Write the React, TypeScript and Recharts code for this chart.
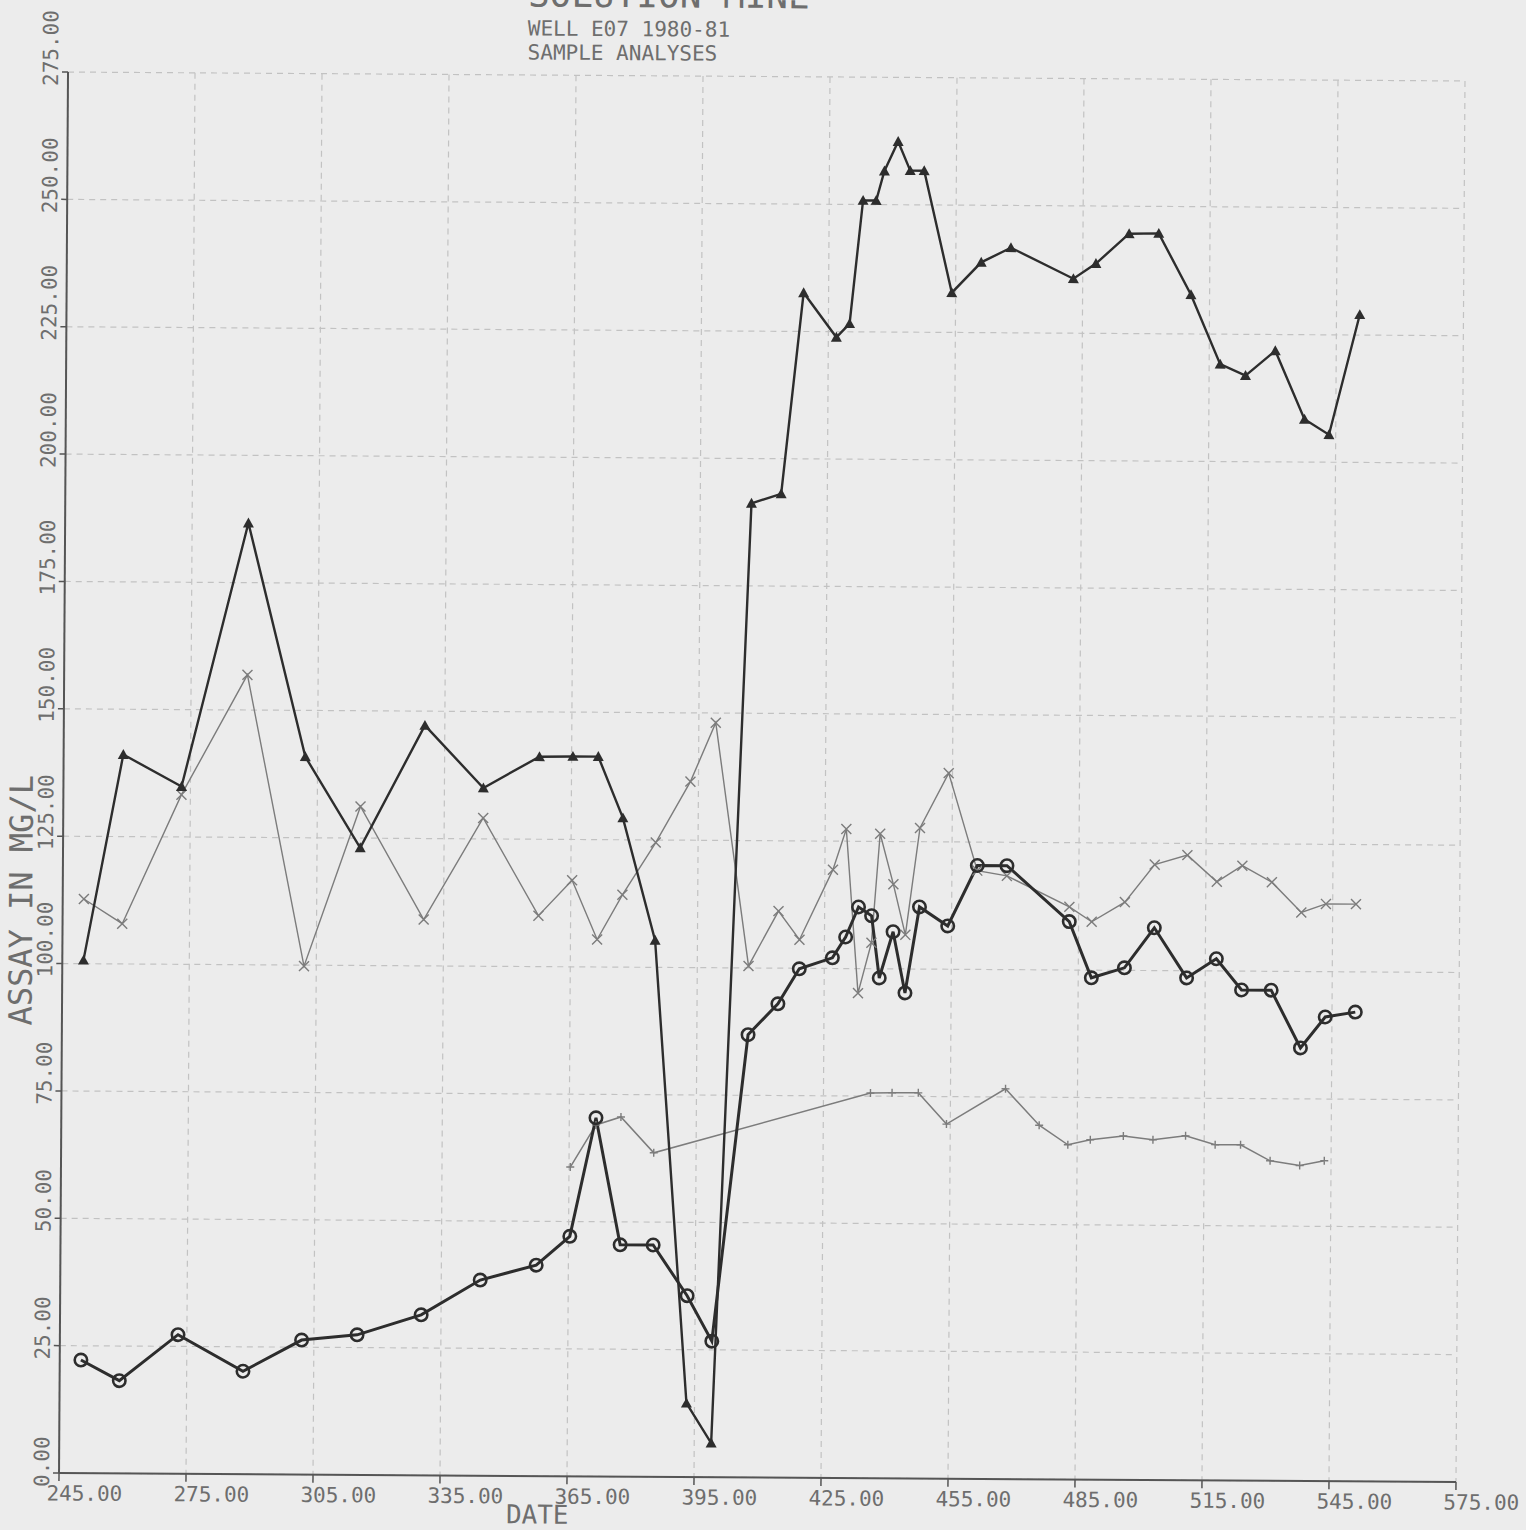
import React from "react";
import { LineChart, Line, XAxis, YAxis, CartesianGrid } from "recharts";

// sample dates (day number) shared by the three full series
const sampleDays = [
  250, 259.1, 272.9, 288.3, 302.1, 315.2, 330.3, 344.2, 357.4, 365.3, 371.3, 377.2, 385, 393.1,
  399, 407.1, 414.1, 419.1, 426.9, 430, 433, 436.1, 438, 441.2, 444.1, 447.4, 454.1, 461, 468,
  482.8, 488.1, 495.9, 502.9, 510.6, 517.6, 523.6, 530.6, 537.6, 543.4, 550.5,
];

const triangleValues = [
  100.7, 141.1, 134.9, 186.7, 140.9, 123.1, 147.2, 135, 141.2, 141.3, 141.3, 129.3, 105.3, 14.5,
  6.7, 191.2, 193.1, 232.6, 223.9, 226.6, 250.8, 250.8, 256.6, 262.4, 256.7, 256.7, 232.8, 238.8,
  241.7, 235.7, 238.7, 244.6, 244.7, 232.7, 219.1, 216.9, 221.8, 208.4, 205.4, 229,
];

const crossValues = [
  112.7, 107.9, 133.3, 156.9, 99.8, 131.2, 109.1, 129.1, 110, 117, 105.4, 114.2, 124.5, 136.5,
  148.1, 100.4, 111.2, 105.6, 119.4, 127.4, 95.2, 105.1, 126.5, 116.6, 106.7, 127.7, 138.5, 119.4,
  118.4, 112.4, 109.5, 113.4, 120.8, 122.7, 117.5, 120.7, 117.5, 111.6, 113.3, 113.3,
];

const circleValues = [
  22.2, 18.2, 27.3, 20.2, 26.4, 27.5, 31.5, 38.4, 41.4, 47.1, 70.4, 45.5, 45.5, 35.6, 26.7, 86.9,
  93, 99.9, 102.1, 106.2, 112.1, 110.4, 98.2, 107.3, 95.3, 112.2, 108.5, 120.4, 120.4, 109.5, 98.5,
  100.5, 108.4, 98.6, 102.4, 96.3, 96.3, 85, 91.1, 92.1,
];

// fourth series only starts at day 365
const plusDays = [
  365.3, 371.3, 377.2, 385, 436.1, 441.2, 447.4, 454.1, 468, 476, 482.8, 488.1, 495.9, 502.9,
  510.6, 517.6, 523.6, 530.6, 537.6, 543.4,
];
const plusValues = [
  60.7, 69, 70.6, 63.6, 75.6, 75.7, 75.7, 69.6, 76.6, 69.5, 65.7, 66.7, 67.5, 66.8, 67.6, 65.9,
  65.9, 62.8, 61.9, 62.9,
];

const xTicks = [245, 275, 305, 335, 365, 395, 425, 455, 485, 515, 545, 575];
const yTicks = [0, 25, 50, 75, 100, 125, 150, 175, 200, 225, 250, 275];

const toPoints = (xs: number[], ys: number[]) => xs.map((x, i) => ({ x, y: ys[i] }));

const FONT = "'DejaVu Sans Mono', monospace";
const INK = "#2d2d2d";
const THIN = "#7c7c7c";
const TEXT = "#6e6e6e";
// the scanned plot sits slightly turned clockwise
const TILT = "rotate(0.368deg)";

function TriangleDot({ cx, cy }: any) {
  if (cx == null || cy == null) return null;
  const s = 5.5;
  return (
    <path
      d={`M${cx},${cy - s} L${cx + s},${cy + s * 0.8} L${cx - s},${cy + s * 0.8} Z`}
      fill={INK}
    />
  );
}

function CircleDot({ cx, cy }: any) {
  if (cx == null || cy == null) return null;
  return <circle cx={cx} cy={cy} r={6.2} fill="none" stroke={INK} strokeWidth={2.6} />;
}

function CrossDot({ cx, cy }: any) {
  if (cx == null || cy == null) return null;
  const s = 5;
  return (
    <path
      d={`M${cx - s},${cy - s} L${cx + s},${cy + s} M${cx - s},${cy + s} L${cx + s},${cy - s}`}
      stroke={THIN}
      strokeWidth={1.4}
    />
  );
}

function PlusDot({ cx, cy }: any) {
  if (cx == null || cy == null) return null;
  const s = 4;
  return (
    <path
      d={`M${cx - s},${cy} L${cx + s},${cy} M${cx},${cy - s} L${cx},${cy + s}`}
      stroke={THIN}
      strokeWidth={1.4}
    />
  );
}

function XTick({ x, y, payload }: any) {
  return (
    <text
      x={x + 25.5}
      y={y + 17.5}
      textAnchor="middle"
      fill={TEXT}
      fontFamily={FONT}
      fontSize={21}
    >
      {Number(payload.value).toFixed(2)}
    </text>
  );
}

function YTick({ y, payload }: any) {
  return (
    <text
      transform={`translate(53.5,${y + 14}) rotate(-90)`}
      textAnchor="start"
      fill={TEXT}
      fontFamily={FONT}
      fontSize={21}
    >
      {Number(payload.value).toFixed(2)}
    </text>
  );
}

export default function App() {
  return (
    <div
      style={{
        position: "absolute",
        left: 0,
        top: 0,
        width: 1526,
        height: 1530,
        background: "#ececec",
        overflow: "hidden",
      }}
    >
      <div
        style={{
          position: "absolute",
          left: 0,
          top: 0,
          width: 1526,
          height: 1530,
          transform: TILT,
          transformOrigin: "762px 777px",
        }}
      >
        <LineChart width={1526} height={1530} margin={{ top: 76.5, right: 65.5, bottom: 0, left: 0 }}>
          <CartesianGrid stroke="#c2c2c2" strokeDasharray="6 5" strokeWidth={1.2} />
          <XAxis
            type="number"
            dataKey="x"
            domain={[245, 575]}
            ticks={xTicks}
            allowDataOverflow
            height={52.5}
            tickSize={8}
            axisLine={{ stroke: "#555", strokeWidth: 2 }}
            tickLine={{ stroke: "#555", strokeWidth: 1.5 }}
            tick={<XTick />}
            interval={0}
          />
          <YAxis
            type="number"
            domain={[0, 275]}
            ticks={yTicks}
            allowDataOverflow
            width={63.5}
            tickSize={6}
            axisLine={{ stroke: "#555", strokeWidth: 2 }}
            tickLine={{ stroke: "#555", strokeWidth: 1.5 }}
            tick={<YTick />}
            interval={0}
          />
          <Line
            data={toPoints(sampleDays, crossValues)}
            dataKey="y"
            type="linear"
            stroke={THIN}
            strokeWidth={1.4}
            dot={(p: any) => <CrossDot key={`c${p.index}`} {...p} />}
            activeDot={false}
            isAnimationActive={false}
          />
          <Line
            data={toPoints(plusDays, plusValues)}
            dataKey="y"
            type="linear"
            stroke={THIN}
            strokeWidth={1.5}
            dot={(p: any) => <PlusDot key={`p${p.index}`} {...p} />}
            activeDot={false}
            isAnimationActive={false}
          />
          <Line
            data={toPoints(sampleDays, triangleValues)}
            dataKey="y"
            type="linear"
            stroke={INK}
            strokeWidth={2.4}
            dot={(p: any) => <TriangleDot key={`t${p.index}`} {...p} />}
            activeDot={false}
            isAnimationActive={false}
          />
          <Line
            data={toPoints(sampleDays, circleValues)}
            dataKey="y"
            type="linear"
            stroke={INK}
            strokeWidth={3}
            dot={(p: any) => <CircleDot key={`o${p.index}`} {...p} />}
            activeDot={false}
            isAnimationActive={false}
          />
        </LineChart>
        <svg
          width={1526}
          height={1530}
          style={{ position: "absolute", left: 0, top: 0, pointerEvents: "none" }}
        >
          <text x={523} y={8} fill={TEXT} fontFamily={FONT} fontSize={36}>
            SOLUTION MINE
          </text>
          <text x={523} y={37} fill={TEXT} fontFamily={FONT} fontSize={21}>
            WELL E07 1980-81
          </text>
          <text x={523} y={61} fill={TEXT} fontFamily={FONT} fontSize={21}>
            SAMPLE ANALYSES
          </text>
          <text x={542} y={1525} textAnchor="middle" fill={TEXT} fontFamily={FONT} fontSize={26}>
            DATE
          </text>
          <text
            transform="translate(33,905) rotate(-90)"
            textAnchor="middle"
            fill={TEXT}
            fontFamily={FONT}
            fontSize={32}
          >
            ASSAY IN MG/L
          </text>
        </svg>
      </div>
    </div>
  );
}
